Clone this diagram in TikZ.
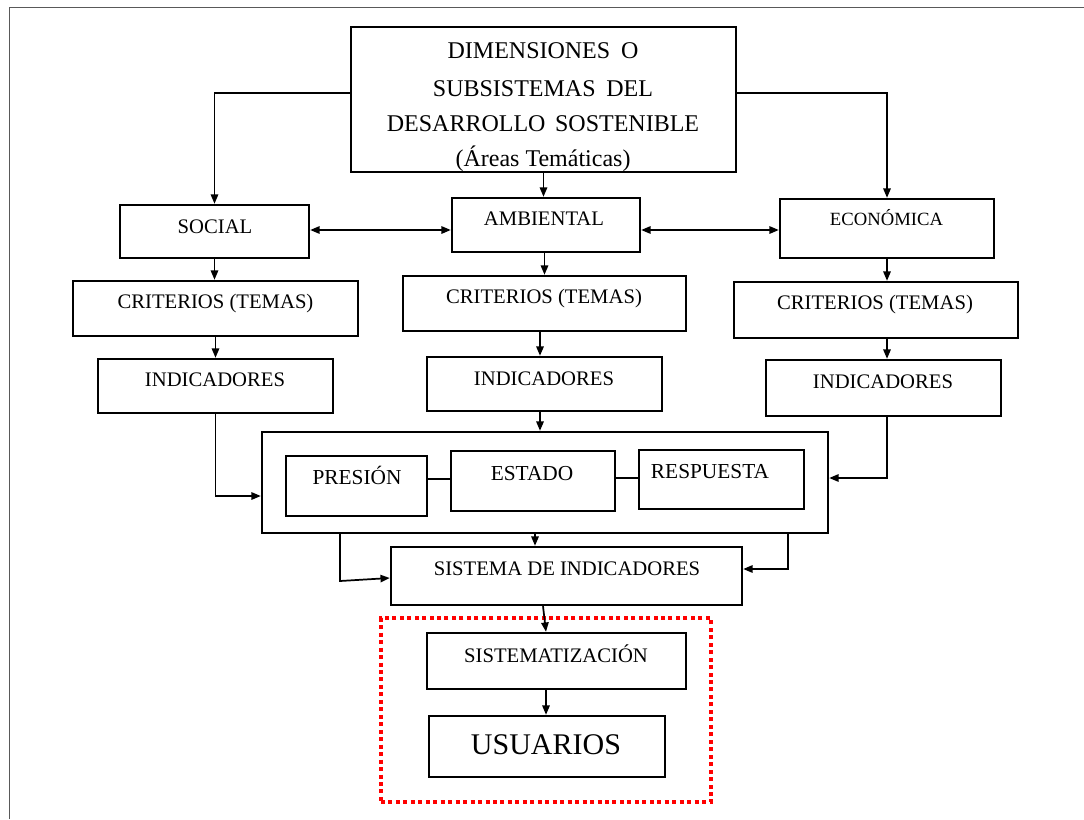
\documentclass[tikz,border=0pt]{standalone}
\usepackage{fontspec}
\setmainfont{Liberation Serif}
\usetikzlibrary{arrows.meta,fit}
\begin{document}
\begin{tikzpicture}[x=0.75pt,y=-0.75pt,
 box/.style={draw, line width=1.8pt, inner sep=0pt},
 txt/.style={anchor=base, inner sep=0pt, font=\fontsize{15.5}{18}\selectfont},
 toptxt/.style={txt, font=\fontsize{18}{21}\selectfont},
 pertxt/.style={txt, font=\fontsize{16}{19}\selectfont},
 con/.style={line width=1.3pt},
 arr/.style={con, -{Triangle[length=7pt,width=5.5pt]}},
 darr/.style={con, {Triangle[length=7pt,width=5.5pt]}-{Triangle[length=7pt,width=5.5pt]}},
 redgroup/.style={draw=red, line width=3pt, dash pattern=on 3pt off 2.6pt, inner sep=0pt}
]
\useasboundingbox (0,0) rectangle (1084,819);
\draw[line width=1.3pt, black!65] (9.5,819) -- (9.5,7.5) -- (1084,7.5);

% boxes
\node[box, fit={(351,27) (736,172)}] (top) {};
\node[box, fit={(120,205) (309,258)}] (social) {};
\node[box, fit={(452,198) (640,252)}] (amb) {};
\node[box, fit={(780,199) (994,258)}] (econ) {};
\node[box, fit={(73,281) (358,336)}] (crit1) {};
\node[box, fit={(403,276) (686,331)}] (crit2) {};
\node[box, fit={(734,282) (1018,338)}] (crit3) {};
\node[box, fit={(98,359) (333,413)}] (ind1) {};
\node[box, fit={(427,357) (662,411)}] (ind2) {};
\node[box, fit={(766,360) (1001,416)}] (ind3) {};
\node[box, fit={(262,432) (828,533)}] (per) {};
\node[box, fit={(286,456) (427,516)}] (pres) {};
\node[box, fit={(451,451) (615,511)}] (est) {};
\node[box, fit={(639,450) (804,509)}] (resp) {};
\node[box, fit={(391,547) (742,605)}] (sis) {};
\node[box, fit={(427,633) (686,689)}] (sistz) {};
\node[box, fit={(429,716) (665,777)}] (usu) {};
\node[redgroup, fit={(381,618) (711,802)}] (grupo) {};

% texts
\node[toptxt] (top1) at (543,58) {DIMENSIONES\hspace{0.45em}O};
\node[toptxt] (top2) at (543,96) {SUBSISTEMAS\hspace{0.45em}DEL};
\node[toptxt] (top3) at (543,131.5) {DESARROLLO\hspace{0.4em}SOSTENIBLE};
\node[toptxt] (top4) at (543,166) {(Áreas Temáticas)};
\node[txt] (social-t) at (215,233.3) {SOCIAL};
\node[txt] (amb-t) at (544,225) {AMBIENTAL};
\node[txt, font=\fontsize{14}{16}\selectfont] (econ-t) at (886.5,225) {ECONÓMICA};
\node[txt] (crit1-t) at (215.5,308) {CRITERIOS (TEMAS)};
\node[txt] (crit2-t) at (544,303) {CRITERIOS (TEMAS)};
\node[txt] (crit3-t) at (875,309) {CRITERIOS (TEMAS)};
\node[txt] (ind1-t) at (215,386.5) {INDICADORES};
\node[txt] (ind2-t) at (544,385) {INDICADORES};
\node[txt] (ind3-t) at (883,388) {INDICADORES};
\node[pertxt] (pres-t) at (357,484) {PRESIÓN};
\node[pertxt] (est-t) at (532,480) {ESTADO};
\node[pertxt] (resp-t) at (710,478) {RESPUESTA};
\node[txt] (sis-t) at (567,575) {SISTEMA DE INDICADORES};
\node[txt] (sistz-t) at (556,662) {SISTEMATIZACIÓN};
\node[txt, font=\fontsize{22.5}{26}\selectfont] (usu-t) at (546,754) {USUARIOS};

% helper coordinates
\coordinate (y93) at (0,93);
\coordinate (yA) at (0,230);
\coordinate (y496) at (0,496);
\coordinate (y478) at (0,478);
\coordinate (y479) at (0,479);
\coordinate (y581) at (0,581);
\coordinate (y578) at (0,578);
\coordinate (y569) at (0,569);
\coordinate (x540) at (540,0);
\coordinate (x535) at (535,0);
\coordinate (x340) at (340,0);
\coordinate (x788) at (788,0);
\coordinate (x543) at (543,0);
\coordinate (x546) at (546,0);

% connectors
\draw[arr] (top.west |- y93) -| (social.north);
\draw[arr] (top.east |- y93) -| (econ.north);
\draw[arr] (top.south) -- (top.south |- amb.north);
\draw[darr] (social.east |- yA) -- (amb.west |- yA);
\draw[darr] (amb.east |- yA) -- (econ.west |- yA);
\draw[arr] (social.south) -- (social.south |- crit1.north);
\draw[arr] (crit2.north |- amb.south) -- (crit2.north);
\draw[arr] (econ.south) -- (econ.south |- crit3.north);
\draw[arr] (ind1.north |- crit1.south) -- (ind1.north);
\draw[arr] (x540 |- crit2.south) -- (x540 |- ind2.north);
\draw[arr] (econ.south |- crit3.south) -- (econ.south |- ind3.north);
\draw[arr] (x540 |- ind2.south) -- (x540 |- per.north);
\draw[arr] (ind1.south) |- (per.west |- y496);
\draw[arr] (econ.south |- ind3.south) |- (per.east |- y478);
\draw[con] (pres.east |- y479) -- (est.west |- y479);
\draw[con] (est.east |- y478) -- (resp.west |- y478);
\draw[arr] (x535 |- per.south) -- (x535 |- sis.north);
\draw[arr] (x340 |- per.south) -- (x340 |- y581) -- (sis.west |- y578);
\draw[arr] (x788 |- per.south) |- (sis.east |- y569);
\draw[arr] (x543 |- sis.south) -- (x546 |- sistz.north);
\draw[arr] (x546 |- sistz.south) -- (x546 |- usu.north);
\end{tikzpicture}
\end{document}
